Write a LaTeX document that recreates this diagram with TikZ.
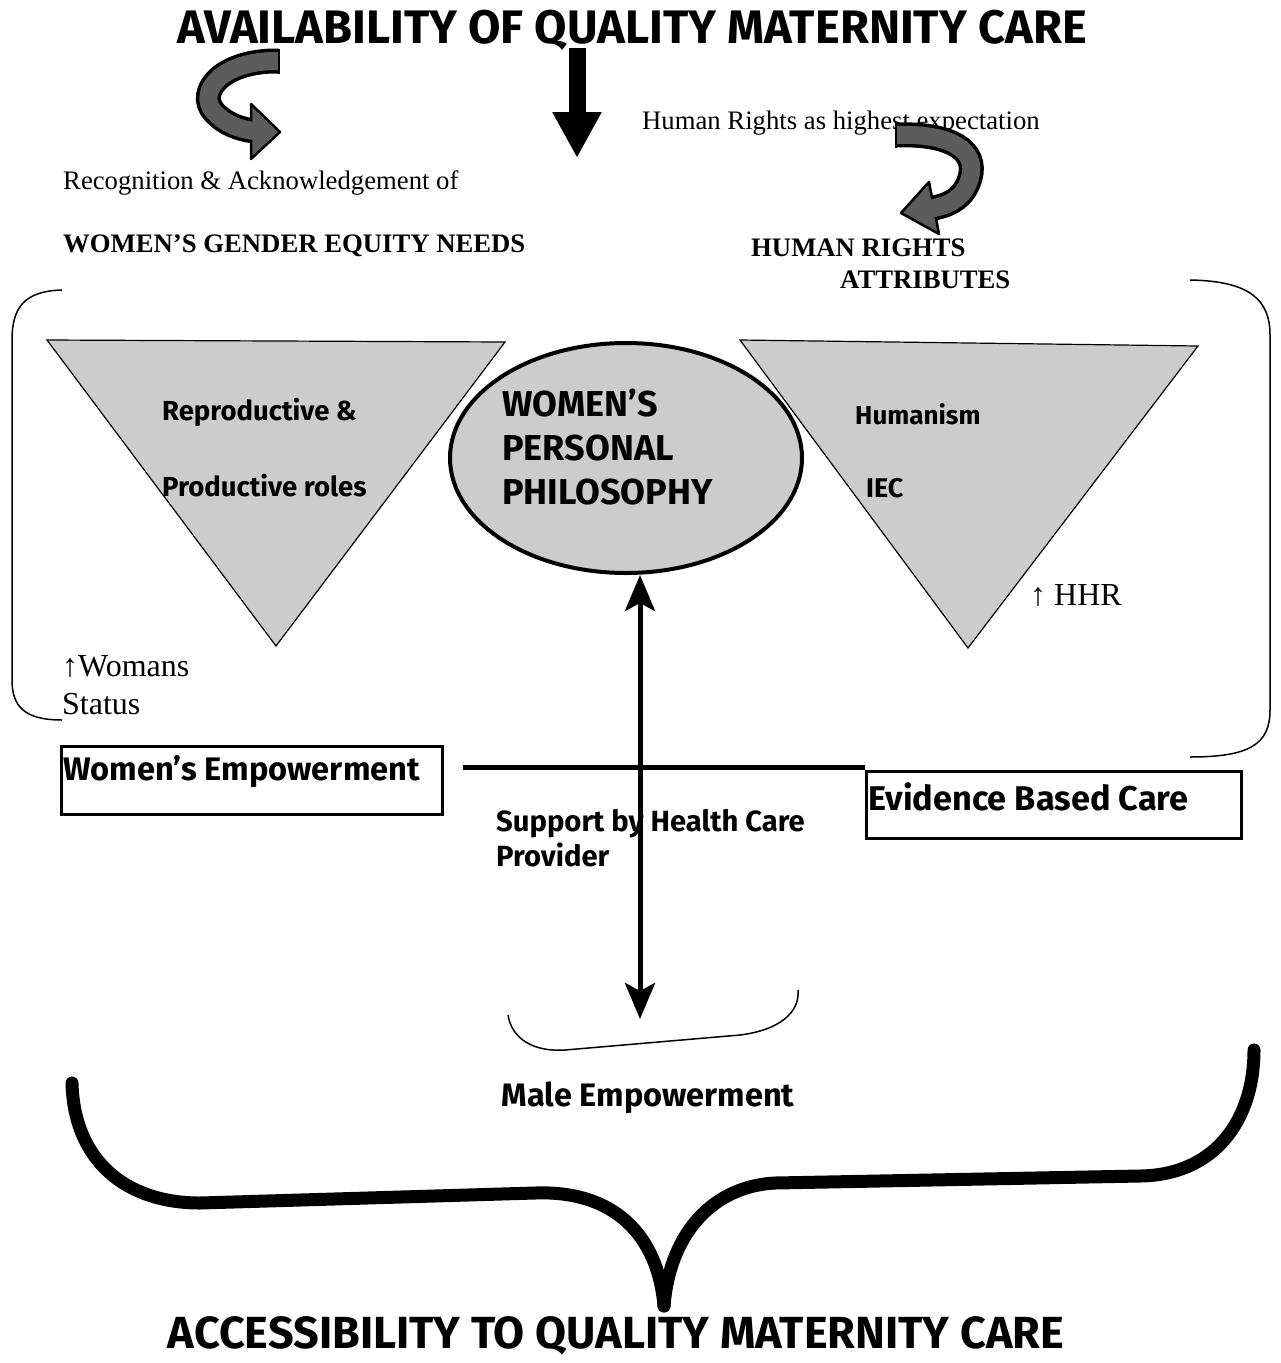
\documentclass[tikz,border=0pt]{standalone}
\usepackage{fontspec}
\setmainfont{Liberation Serif}
\newfontfamily\comicfont{Fira Sans}
\usetikzlibrary{arrows.meta,shapes.geometric,calc}
\definecolor{arrowgray}{gray}{0.36}
\definecolor{trigray}{gray}{0.80}
\begin{document}
\begin{tikzpicture}[x=1pt,y=-1pt,
    comic/.style 2 args={font=\comicfont\bfseries\fontsize{#1}{#2}\selectfont, inner sep=0pt},
    times/.style 2 args={font=\rmfamily\fontsize{#1}{#2}\selectfont, inner sep=0pt},
    timesb/.style 2 args={font=\rmfamily\bfseries\fontsize{#1}{#2}\selectfont, inner sep=0pt},
    tri/.style={fill=trigray, draw=black, line width=1.2},
    fatout/.style={line width=25, black},
    fatin/.style={line width=18, arrowgray},
    fathead/.style={fill=arrowgray, draw=black, line width=2.5, line join=round},
    ebox/.style={draw, line width=3},
    brk/.style={line width=1.5}]
\useasboundingbox (0,0) rectangle (1281,1363);
\fill[white] (0,0) rectangle (1281,1363);

% titles
\node[comic={47}{50}] (avail) at (632,30) {AVAILABILITY OF QUALITY MATERNITY CARE};
\node[comic={45}{50}] (access) at (616,1336) {ACCESSIBILITY TO QUALITY MATERNITY CARE};

% texts under the title
\node[times={26.7}{30}, anchor=west] (hrexp) at (642,123) {Human Rights as highest expectation};
\node[times={26.7}{30}, anchor=west] (recog) at (63,183) {Recognition \& Acknowledgement of};
\node[timesb={26.7}{30}, anchor=west] (wgen) at (63,246) {WOMEN’S GENDER EQUITY NEEDS};
\node[timesb={26.7}{30}, anchor=west] (hrig) at (751,248) {HUMAN RIGHTS};
\node[timesb={26.7}{30}, anchor=west] (hatt) at (840,280) {ATTRIBUTES};

% down arrow
\coordinate (dtop) at (577,48);
\coordinate (dend) at (577,158);
\draw[line width=17, -{Triangle[length=46pt,width=46pt]}] (dtop) -- (dend);

% curved arrow, left
\draw[fatout] (279,61) .. controls (222,60) and (196,92) .. (214,112) .. controls (224,123) and (238,129) .. (254,131);
\filldraw[fathead] (251,104) -- (280,132) -- (251,159) -- cycle;
\draw[fatin] (279,61) .. controls (222,60) and (196,92) .. (214,112) .. controls (224,123) and (238,129) .. (254,131);
\draw[line width=2.5] (279,48.5) -- (279,73.5);

% curved arrow, right
\draw[fatout] (896,135) .. controls (950,133) and (978,150) .. (970,178) .. controls (964,198) and (950,205) .. (932,208.4);
\filldraw[fathead] (939,234) -- (901,213) -- (929,182) -- cycle;
\draw[fatin] (896,135) .. controls (950,133) and (978,150) .. (970,178) .. controls (964,198) and (950,205) .. (932,208.4);
\draw[line width=2.5] (896,122.5) -- (896,147.5);

% brackets
\draw[brk] (62,290) .. controls (24,291) and (12,308) .. (12,340) -- (12,680) .. controls (12,706) and (24,720) .. (62,720);
\draw[brk] (1190,280) .. controls (1250,281) and (1270,300) .. (1270,335) -- (1270,710) .. controls (1270,744) and (1250,757) .. (1190,757);

% triangles
\filldraw[tri] (47,340) -- (505,342) -- (276,646) -- cycle;
\filldraw[tri] (740,340) -- (1198,346) -- (968,648) -- cycle;
\node[comic={27.5}{32}, anchor=west] (rprod) at (162,412) {Reproductive \&};
\node[comic={27.5}{32}, anchor=west] (prod) at (162,486) {Productive roles};
\node[comic={26}{32}, anchor=west] (hum) at (855,414) {Humanism};
\node[comic={27}{32}, anchor=west] (iec) at (866,488) {IEC};
\node[times={32}{38}, anchor=west] (hhr) at (1030,595) {↑ HHR};
\node[times={32}{38}, anchor=west, align=left] (wstat) at (62,685) {↑Womans\\Status};

% ellipse
\node[ellipse, draw, line width=4, fill=trigray, minimum width=352pt, minimum height=230pt] (wpp) at (626,458) {};
\node[comic={36}{44}, anchor=west, align=left] (wpptxt) at (502,447) {WOMEN’S\\PERSONAL\\PHILOSOPHY};

% boxes
\node[ebox, minimum width=381pt, minimum height=68pt] (wembox) at (252,780.5) {};
\node[comic={32.6}{36}, anchor=west] (wemtxt) at (63,772) {Women’s Empowerment};
\node[ebox, minimum width=375pt, minimum height=67pt] (ebbox) at (1054,805) {};
\node[comic={34.3}{36}, anchor=west] (ebtxt) at (868,797) {Evidence Based Care};
\coordinate (hl) at (463,767);
\draw[line width=5] (hl) -- (hl -| ebbox.west);

% support
\node[comic={29.2}{35}, anchor=west, align=left] (supp) at (496,838) {Support by Health Care\\Provider};
\coordinate (hcp) at ($(wpp.south)+(14,0)$);
\coordinate (hcq) at (640,1019);
\draw[line width=5, {Stealth[length=36pt,width=30pt,inset=8pt]}-{Stealth[length=36pt,width=30pt,inset=8pt]}] (hcp) -- (hcq);

% male
\draw[brk] (508,1015) .. controls (512,1040) and (535,1052) .. (565,1050) -- (740,1035) .. controls (780,1030) and (800,1012) .. (798,990);
\node[comic={32.5}{36}] (male) at (648,1098) {Male Empowerment};

% big brace
\draw[line width=13, line cap=round] (72,1083) .. controls (74,1160) and (125,1203) .. (200,1203) -- (535,1193) .. controls (615,1190) and (658,1236) .. (664,1306);
\draw[line width=13, line cap=round] (1254,1050) .. controls (1254,1120) and (1215,1175) .. (1140,1176) -- (775,1183) .. controls (715,1186) and (670,1231) .. (664,1306);
\end{tikzpicture}
\end{document}
